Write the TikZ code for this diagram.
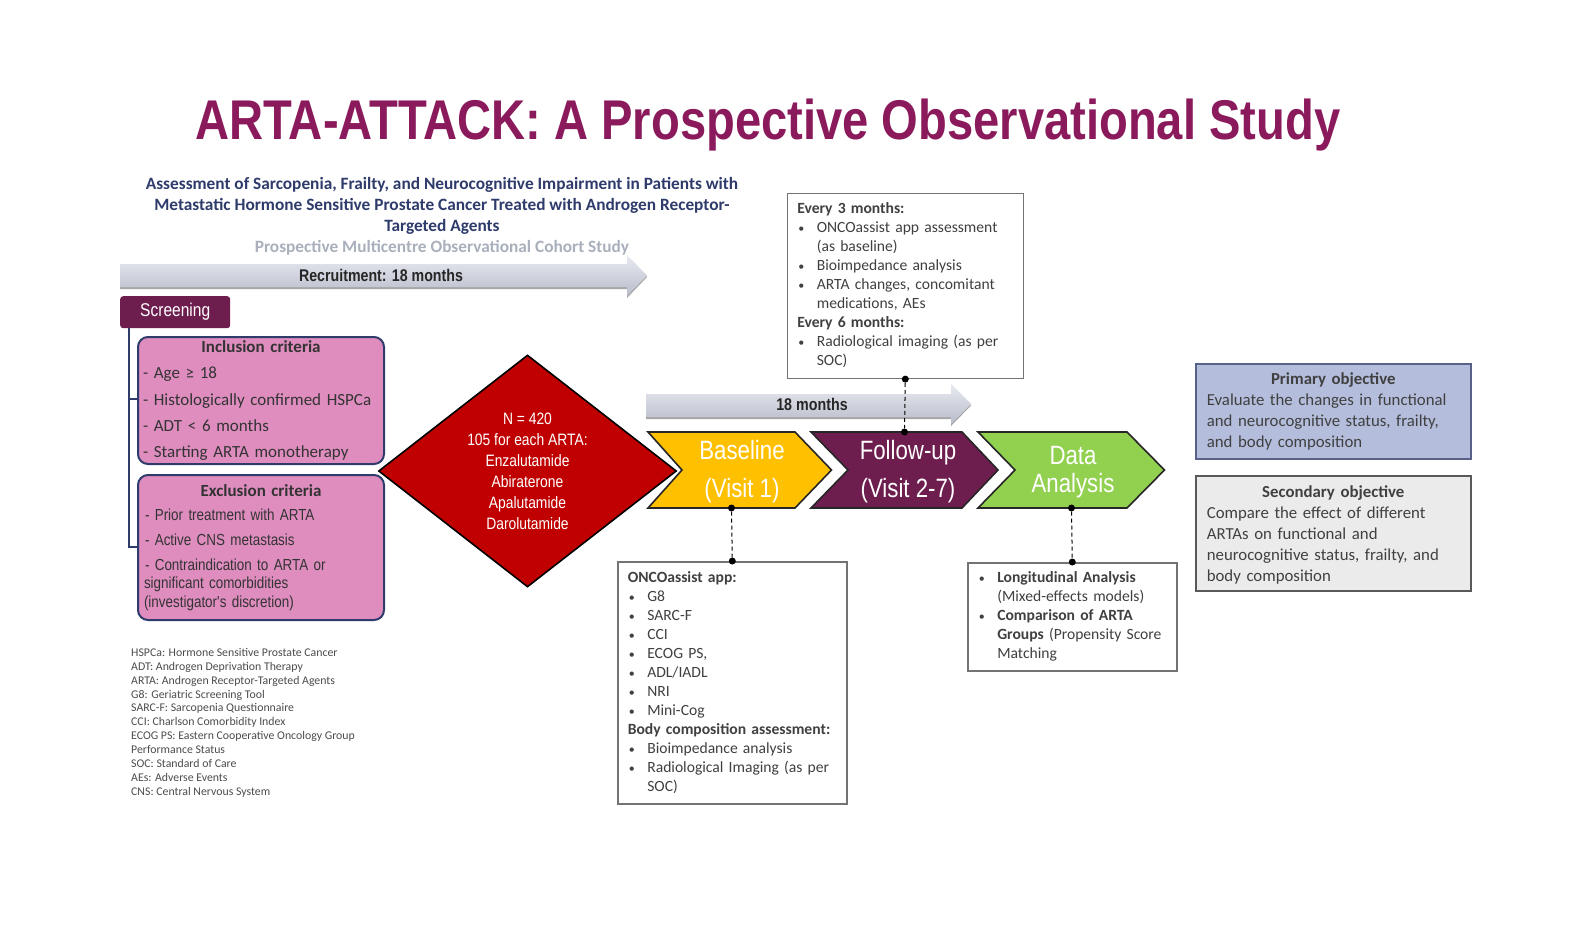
\documentclass[tikz,border=0pt]{standalone}
\usepackage{fontspec}
\usetikzlibrary{shapes.geometric,shadings}
\setmainfont{Carlito}
\newfontfamily\titlefont[FakeStretch=0.842]{Liberation Sans}
\newfontfamily\narrowfont[FakeStretch=0.84]{Liberation Sans}
\newcommand{\setfs}[2]{\fontsize{#1}{#2}\selectfont}
\newcommand{\bul}{\makebox[19.5pt][l]{\hspace{1pt}{\setfs{12}{12}\textbullet}}}
\newcommand{\ind}{\hspace{19.5pt}}
\newcommand{\tailsp}[1]{\par\vspace{#1}}
\definecolor{navy}{HTML}{2E3B6B}
\definecolor{subgray}{HTML}{A9B0BC}
\definecolor{plum}{HTML}{6E1D4F}
\definecolor{titleplum}{HTML}{8A1A5C}
\definecolor{pinkbox}{HTML}{DF8DBF}
\definecolor{ired}{HTML}{C00000}
\definecolor{amber}{HTML}{FFC000}
\definecolor{leaf}{HTML}{92D050}
\definecolor{bodytxt}{HTML}{404040}
\definecolor{arrowlight}{HTML}{E8EAF0}
\definecolor{arrowdark}{HTML}{B9BDCB}
\tikzset{
  arrowshape/.style={top color=arrowlight,bottom color=arrowdark,draw=none},
  whitebox/.style={draw=black!55,line width=1.6pt,fill=white,anchor=north west,align=left,inner sep=0pt,text=bodytxt,font=\setfs{15.6}{19}},
  objbox/.style={line width=1.6pt,anchor=north west,align=left,inner sep=0pt,text=bodytxt,font=\setfs{16.8}{21}},
  critbox/.style={draw=navy,line width=2pt,fill=pinkbox,rounded corners=10pt,anchor=north west,align=left,inner sep=0pt,text=black!80},
  chevtext/.style={text=white,align=center,inner sep=0pt,font=\narrowfont\setfs{26.5}{38}},
  chevline/.style={draw=black!85,line width=1.6pt,line join=miter},
  dotn/.style={circle,fill=black,inner sep=0pt,minimum size=7pt},
  dashlink/.style={draw=black,line width=1pt,dash pattern=on 4pt off 3pt},
  brk/.style={draw=navy,line width=1.6pt},
  head/.style={text=navy,inner sep=0pt,font=\bfseries\setfs{17.3}{20.7}},
}
\begin{document}
\begin{tikzpicture}[x=1pt,y=-1pt]
\useasboundingbox (0,0) rectangle (1593,938);
\fill[white] (0,0) rectangle (1593,938);
% title
\node[text=titleplum,anchor=center,inner sep=0pt,font=\titlefont\bfseries\setfs{56}{60}] (title) at (768,125) {ARTA-ATTACK: A Prospective Observational Study};
% heading
\node[head,align=center] (heading) at (442,206) {Assessment of Sarcopenia, Frailty, and Neurocognitive Impairment in Patients with\\Metastatic Hormone Sensitive Prostate Cancer Treated with Androgen Receptor-\\Targeted Agents};
\node[text=subgray,inner sep=0pt,font=\bfseries\setfs{17.3}{20}] (subhead) at (442,248) {Prospective Multicentre Observational Cohort Study};
% recruitment arrow
\path[fill=black!35] (120,266)--(627,266)--(627,257)--(647,277)--(627,298)--(627,289)--(120,289)--cycle;
\path[arrowshape] (120,264)--(627,264)--(627,255)--(647,275.5)--(627,296)--(627,287)--(120,287)--cycle;
\node[inner sep=0pt,font=\narrowfont\bfseries\setfs{16.9}{18},text=black!85] (recruit) at (381,275) {Recruitment: 18 months};
% screening
\node[fill=plum,rounded corners=3pt,minimum width=110pt,minimum height=32pt,inner sep=0pt,text=white,font=\narrowfont\setfs{18.5}{20},anchor=north west] (screening) at (120,296) {\raisebox{-2pt}{Screening}};
% bracket
\coordinate (brkTop) at (129,328);
\coordinate (brkMid) at (129,399);
\coordinate (brkBot) at (129,547);
\coordinate (inclTick) at (137,399);
\coordinate (exclTick) at (137,547);
\draw[brk] (brkTop) -- (brkBot) -- (exclTick);
\draw[brk] (brkMid) -- (inclTick);
% inclusion
\node[critbox,minimum width=246pt,minimum height=127pt,text width=246pt,font=\setfs{17}{26.4}] (incl) at (137,336) {\makebox[246pt][c]{\textbf{Inclusion criteria}}\\
\hspace*{5pt}- Age ≥ 18\\
\hspace*{5pt}- Histologically confirmed HSPCa\\
\hspace*{5pt}- ADT < 6 months\\
\hspace*{5pt}- Starting ARTA monotherapy};
% exclusion
\node[critbox,minimum width=246pt,minimum height=145pt,text width=246pt,font=\narrowfont\setfs{16}{18.4}] (excl) at (137,474) {\makebox[246pt][c]{\normalfont\bfseries\setfs{17}{18.4}Exclusion criteria}\\[6pt]
\hspace*{7pt}- Prior treatment with ARTA\\[6.5pt]
\hspace*{7pt}- Active CNS metastasis\\[6pt]
\hspace*{7pt}- Contraindication to ARTA or\\
\hspace*{6pt}significant comorbidities\\
\hspace*{6pt}(investigator's discretion)};
% diamond
\node[diamond,draw=black,line width=1.6pt,fill=ired,aspect=1.28,minimum width=298pt,minimum height=232pt,inner sep=0pt,text=white,align=center,font=\narrowfont\setfs{16.5}{21}] (enrol) at (527.5,471) {N = 420\\105 for each ARTA:\\Enzalutamide\\Abiraterone\\Apalutamide\\Darolutamide};
% 18 months arrow
\path[fill=black!35] (646,396)--(951,396)--(951,386)--(971,405.5)--(951,426)--(951,419)--(646,419)--cycle;
\path[arrowshape] (646,394)--(951,394)--(951,384)--(971,404)--(951,424)--(951,417)--(646,417)--cycle;
\node[inner sep=0pt,font=\narrowfont\bfseries\setfs{17}{18},text=black!85] (months) at (812,404) {18 months};
% chevrons
\path[chevline,fill=amber] (648,432)--(795,432)--(831.5,470)--(795,508)--(648,508)--(682,470)--cycle;
\path[chevline,fill=plum] (811,432)--(962,432)--(998,470)--(962,508)--(811,508)--(848,470)--cycle;
\path[chevline,fill=leaf] (978,432)--(1127,432)--(1164.5,470)--(1127,508)--(978,508)--(1015,470)--cycle;
\node[chevtext] (baseline) at (742,472) {Baseline\\(Visit 1)};
\node[chevtext] (followup) at (908,472) {Follow-up\\(Visit 2-7)};
\node[chevtext,font=\narrowfont\setfs{26.5}{28}] (data) at (1073,472) {Data\\Analysis};
% every 3 months box
\node[whitebox,minimum width=236pt,minimum height=185pt,text width=236pt] (fubox) at (786.5,192.5) {\hspace*{10pt}\textbf{Every 3 months:}\\
\hspace*{10pt}\bul ONCOassist app assessment\\
\hspace*{10pt}\ind (as baseline)\\
\hspace*{10pt}\bul Bioimpedance analysis\\
\hspace*{10pt}\bul ARTA changes, concomitant\\
\hspace*{10pt}\ind medications, AEs\\
\hspace*{10pt}\textbf{Every 6 months:}\\
\hspace*{10pt}\bul Radiological imaging (as per\\
\hspace*{10pt}\ind SOC)\tailsp{2pt}};
% oncoassist box
\node[whitebox,minimum width=229pt,minimum height=242pt,text width=229pt] (blbox) at (617,561) {\hspace*{10pt}\textbf{ONCOassist app:}\\
\hspace*{10pt}\bul G8\\
\hspace*{10pt}\bul SARC-F\\
\hspace*{10pt}\bul CCI\\
\hspace*{10pt}\bul ECOG PS,\\
\hspace*{10pt}\bul ADL/IADL\\
\hspace*{10pt}\bul NRI\\
\hspace*{10pt}\bul Mini-Cog\\
\hspace*{10pt}\textbf{Body composition assessment:}\\
\hspace*{10pt}\bul Bioimpedance analysis\\
\hspace*{10pt}\bul Radiological Imaging (as per\\
\hspace*{10pt}\ind SOC)};
% analysis box
\node[whitebox,minimum width=209pt,minimum height=108pt,text width=209pt] (anbox) at (967,562) {\hspace*{10pt}\bul \textbf{Longitudinal Analysis}\\
\hspace*{10pt}\ind (Mixed-effects models)\\
\hspace*{10pt}\bul \textbf{Comparison of ARTA}\\
\hspace*{10pt}\ind \textbf{Groups} (Propensity Score\\
\hspace*{10pt}\ind Matching};
% objectives
\node[objbox,draw=navy!80,fill={rgb,255:red,180;green,190;blue,220},minimum width=275pt,minimum height=95pt,text width=275pt] (primary) at (1195,363) {\makebox[275pt][c]{\textbf{Primary objective}}\\
\hspace*{11pt}Evaluate the changes in functional\\
\hspace*{11pt}and neurocognitive status, frailty,\\
\hspace*{11pt}and body composition\tailsp{-1pt}};
\node[objbox,draw=black!65,fill=black!8,minimum width=275pt,minimum height=115pt,text width=275pt] (secondary) at (1195,475) {\makebox[275pt][c]{\textbf{Secondary objective}}\\
\hspace*{11pt}Compare the effect of different\\
\hspace*{11pt}ARTAs on functional and\\
\hspace*{11pt}neurocognitive status, frailty, and\\
\hspace*{11pt}body composition\tailsp{-4pt}};
% legend
\node[anchor=north west,inner sep=0pt,align=left,text=black!70,font=\setfs{11.8}{13.9}] (legend) at (131,648) {HSPCa: Hormone Sensitive Prostate Cancer\\
ADT: Androgen Deprivation Therapy\\
ARTA: Androgen Receptor-Targeted Agents\\
G8: Geriatric Screening Tool\\
SARC-F: Sarcopenia Questionnaire\\
CCI: Charlson Comorbidity Index\\
ECOG PS: Eastern Cooperative Oncology Group\\
Performance Status\\
SOC: Standard of Care\\
AEs: Adverse Events\\
CNS: Central Nervous System};
% connectors
\node[dotn] (d1) at (fubox.south) {};
\node[dotn] (d2) at (904.5,432) {};
\node[dotn] (d3) at (blbox.north) {};
\node[dotn] (d4) at (731.5,508) {};
\node[dotn] (d5) at (anbox.north) {};
\node[dotn] (d6) at (1071.5,508) {};
\draw[dashlink] (d1) -- (d2);
\draw[dashlink] (d4) -- (d3);
\draw[dashlink] (d6) -- (d5);
\end{tikzpicture}
\end{document}
